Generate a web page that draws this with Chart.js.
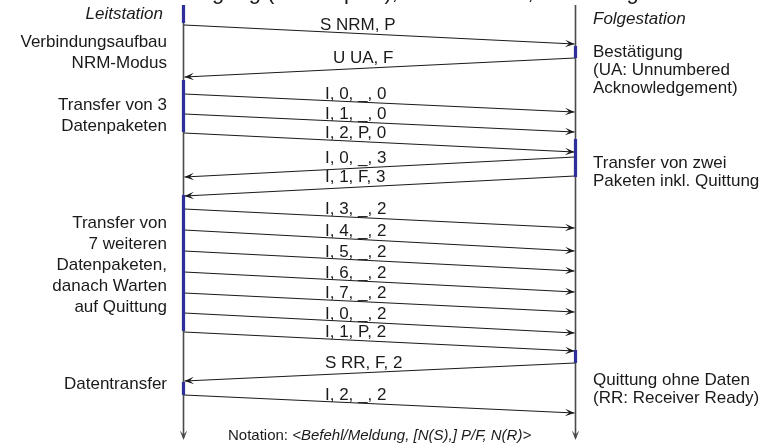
<!DOCTYPE html>
<html><head><meta charset="utf-8">
<script src="https://cdn.jsdelivr.net/npm/chart.js@4/dist/chart.umd.min.js"></script>
<style>html,body{margin:0;padding:0;background:#fff;overflow:hidden}canvas{display:block}</style>
</head><body><canvas id="c" width="765" height="444"></canvas>
<script>
// ---------- data ----------
const stations = ["Leitstation", "Folgestation"];
const messageLabels = ["S NRM, P","U UA, F","I, 0, _, 0","I, 1, _, 0","I, 2, P, 0","I, 0, _, 3","I, 1, F, 3","I, 3, _, 2","I, 4, _, 2","I, 5, _, 2","I, 6, _, 2","I, 7, _, 2","I, 0, _, 2","I, 1, P, 2","S RR, F, 2","I, 2, _, 2"];
const messageSender = [0,1,0,0,0,1,1,0,0,0,0,0,0,0,1,0];
const sendTimes    = [25,58,94,114,133,157,176,209,230,251,272,293,313,332,363,395];
const receiveTimes = [44,77,112,132,152,177,196,228,251,271,292,312,333,351,381,413];
const activeStation = [0,1,0,1,0,1,0];
const activeStart   = [5,46,80,139,195,350,382];
const activeEnd     = [23,58,132,177,331,363,395];
const leftNotes = [["Verbindungsaufbau","NRM-Modus"],["Transfer von 3","Datenpaketen"],["Transfer von","7 weiteren","Datenpaketen,","danach Warten","auf Quittung"],["Datentransfer"]];
const leftNoteTimes = [47,110,228,389];
const rightNotes = [["Bestätigung","(UA: Unnumbered","Acknowledgement)"],["Transfer von zwei","Paketen inkl. Quittung"],["Quittung ohne Daten","(RR: Receiver Ready)"]];
const rightNoteTimes = [57,168,385];
const notationPrefix = "Notation: ";
const notationBody = "<Befehl/Meldung, [N(S),] P/F, N(R)>";
const titlePrefix = "HDLC-Übertragung ";
const titleRest = "(Halbduplex), NRM-Modus, Sendefolge";
const timeStart = 5, timeEnd = 440;

// ---------- layout / style ----------
const stationX = [183.5, 575.5];
const labelXDefault = 325;
const labelXOverride = {0: 320, 1: 333};
const FONT = "'Liberation Sans', Arial, Helvetica, sans-serif";
const INK = "#1a1a1a";
const BLUE = "#2e2f99";
const LIFE = "#4a4a4a";

const datasets = [];
// activation bars (drawn on top -> first)
activeStation.forEach((s, i) => {
  datasets.push({ data: [{x: stationX[s], y: activeStart[i]}, {x: stationX[s], y: activeEnd[i]}],
    showLine: true, borderColor: BLUE, borderWidth: 3.2, pointRadius: 0, borderCapStyle: 'butt', kind: 'bar' });
});
messageLabels.forEach((lab, i) => {
  const s = messageSender[i], r = 1 - s;
  datasets.push({ data: [{x: stationX[s] + (s===0?0.5:-0.5), y: sendTimes[i]}, {x: stationX[r] + (r===0?1:-1), y: receiveTimes[i]}],
    showLine: true, borderColor: INK, borderWidth: 1.25, pointRadius: 0, kind: 'msg', idx: i });
});
stationX.forEach((x) => {
  datasets.push({ data: [{x, y: timeStart}, {x, y: timeEnd - 2}], showLine: true, borderColor: LIFE,
    borderWidth: 1.6, pointRadius: 0, kind: 'life' });
});

function arrowHead(ctx, tx, ty, dx, dy) {
  const len = Math.hypot(dx, dy); dx /= len; dy /= len;
  const px = -dy, py = dx, L = 9.5, W = 3.7;
  ctx.beginPath();
  ctx.moveTo(tx, ty);
  ctx.lineTo(tx - L*dx + W*px, ty - L*dy + W*py);
  ctx.lineTo(tx - 0.55*L*dx, ty - 0.55*L*dy);
  ctx.lineTo(tx - L*dx - W*px, ty - L*dy - W*py);
  ctx.closePath();
  ctx.fill();
}

const overlay = {
  id: 'overlay',
  afterDatasetsDraw(chart) {
    const ctx = chart.ctx, xs = chart.scales.x, ys = chart.scales.y;
    ctx.save();
    ctx.fillStyle = INK;
    chart.data.datasets.forEach((ds) => {
      if (ds.kind === 'msg') {
        const a = ds.data[0], b = ds.data[1];
        const ax = xs.getPixelForValue(a.x), ay = ys.getPixelForValue(a.y);
        const bx = xs.getPixelForValue(b.x), by = ys.getPixelForValue(b.y);
        arrowHead(ctx, bx, by, bx - ax, by - ay);
      }
      if (ds.kind === 'life') {
        const bx = xs.getPixelForValue(ds.data[1].x), by = ys.getPixelForValue(ds.data[1].y) + 2;
        ctx.fillStyle = LIFE;
        arrowHead(ctx, bx, by, 0, 1);
        ctx.fillStyle = INK;
      }
    });
    // message labels
    ctx.font = "17px " + FONT;
    ctx.textAlign = 'left'; ctx.textBaseline = 'alphabetic';
    messageLabels.forEach((lab, i) => {
      const yMid = (sendTimes[i] + receiveTimes[i]) / 2;
      const lx = labelXOverride[i] !== undefined ? labelXOverride[i] : labelXDefault;
      ctx.fillText(lab, lx, ys.getPixelForValue(yMid) - 4.5);
    });
    // station names
    ctx.font = "italic 17px " + FONT;
    ctx.textAlign = 'right'; ctx.fillText(stations[0], 163, 19);
    ctx.textAlign = 'left'; ctx.fillText(stations[1], 593, 24);
    // notes
    ctx.font = "17px " + FONT;
    ctx.textAlign = 'right';
    leftNotes.forEach((lines, i) => lines.forEach((t, j) => ctx.fillText(t, 167, ys.getPixelForValue(leftNoteTimes[i]) + j*21)));
    ctx.textAlign = 'left';
    rightNotes.forEach((lines, i) => lines.forEach((t, j) => ctx.fillText(t, 593, ys.getPixelForValue(rightNoteTimes[i]) + j*18)));
    // notation
    ctx.font = "15px " + FONT;
    ctx.textAlign = 'left';
    ctx.fillText(notationPrefix, 228, 440);
    const w = ctx.measureText(notationPrefix).width;
    ctx.font = "italic 15px " + FONT;
    ctx.fillText(notationBody, 228 + w, 440);
    // cut-off title at top
    ctx.font = "22px " + FONT;
    const tw = ctx.measureText(titlePrefix).width;
    ctx.fillText(titlePrefix + titleRest, 267 - tw, -1);
    ctx.restore();
  }
};

new Chart(document.getElementById('c'), {
  type: 'scatter',
  data: { datasets },
  options: {
    responsive: false, animation: false, devicePixelRatio: 1,
    layout: { padding: 0 },
    plugins: { legend: { display: false }, tooltip: { enabled: false } },
    elements: { line: { tension: 0 } },
    clip: false,
    scales: {
      x: { type: 'linear', min: 0, max: 765, display: false },
      y: { type: 'linear', min: 0, max: 444, reverse: true, display: false }
    }
  },
  plugins: [overlay]
});
</script>
</body></html>
